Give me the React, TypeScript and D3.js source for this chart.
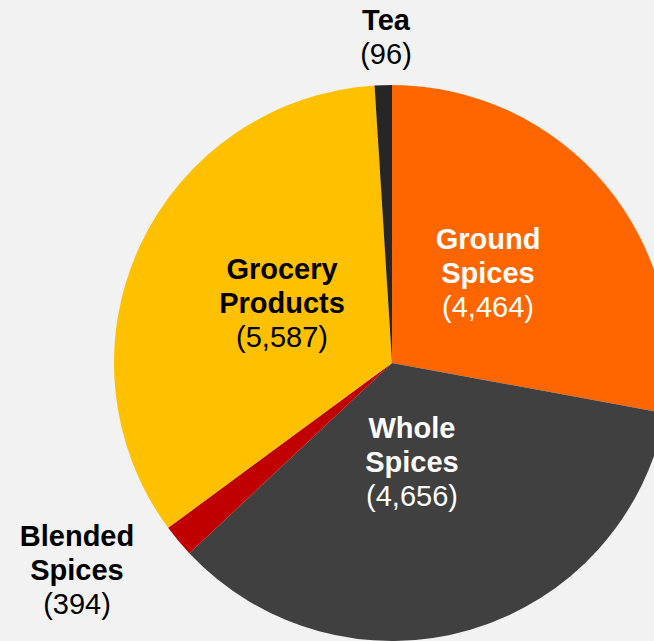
import React from "react";
import * as d3 from "d3";

// Data
const categories = ["Ground Spices", "Whole Spices", "Blended Spices", "Grocery Products", "Tea"];
const counts = [4464, 4656, 394, 5587, 96];
// slice shares as drawn (percent of the circle)
const sliceShares = [27.9, 35.1, 1.9, 34.1, 1.0];
const nameLines = [["Ground", "Spices"], ["Whole", "Spices"], ["Blended", "Spices"], ["Grocery", "Products"], ["Tea"]];

const colors = ["#FF6600", "#404040", "#C00000", "#FFC000", "#262626"];
const textColors = ["#FFFFFF", "#FFFFFF", "#000000", "#000000", "#000000"];
// label block anchor: x center, baseline of first line
const labelAnchors: [number, number][] = [
  [488, 249],
  [412, 438],
  [77, 546],
  [282, 279],
  [386, 30],
];

const W = 654;
const H = 641;
const CX = 392;
const CY = 363;
const R = 278;
const FS = 29;
const LH = 34;

export default function App() {
  const rows = categories.map((c, i) => ({ c, share: sliceShares[i], i }));
  const pie = d3.pie<any>().sort(null).value((d) => d.share).startAngle(0).endAngle(2 * Math.PI);
  const arcs = pie(rows);
  const arc = d3.arc<any>().innerRadius(0).outerRadius(R);
  const fmt = d3.format(",");

  return (
    <div style={{ position: "fixed", left: 0, top: 0, width: W, height: H, background: "#F2F2F2", overflow: "hidden" }}>
      <svg width={W} height={H} style={{ display: "block" }} fontFamily="'Liberation Sans', Arial, sans-serif">
        <rect width={W} height={H} fill="#F2F2F2" />
        <g transform={`translate(${CX},${CY})`}>
          {arcs.map((a, i) => (
            <path key={i} d={arc(a) as string} fill={colors[i]} />
          ))}
        </g>
        {categories.map((c, i) => {
          const [x, y] = labelAnchors[i];
          const lines = nameLines[i];
          return (
            <text key={c} x={x} textAnchor="middle" fontSize={FS} fill={textColors[i]}>
              {lines.map((l, k) => (
                <tspan key={k} x={x} y={y + k * LH} fontWeight="bold">{l}</tspan>
              ))}
              <tspan x={x} y={y + lines.length * LH}>({fmt(counts[i])})</tspan>
            </text>
          );
        })}
      </svg>
    </div>
  );
}
